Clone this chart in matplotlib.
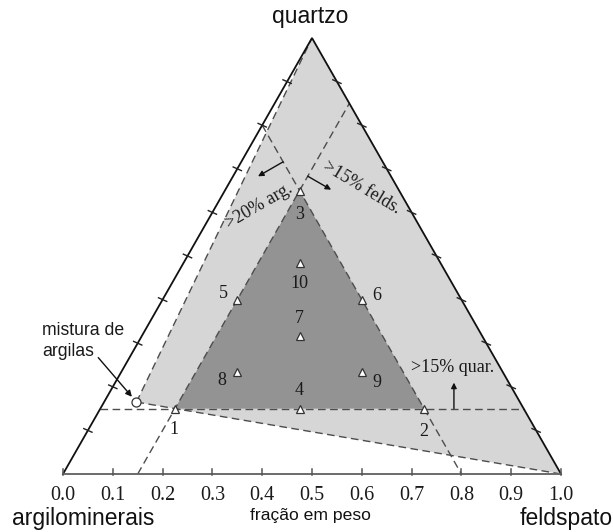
import numpy as np
import matplotlib
matplotlib.use('Agg')
import matplotlib.pyplot as plt
from matplotlib.patches import Polygon

# Sample compositions (weight fractions): clay minerals, feldspar, quartz
sample_ids = ['1', '2', '3', '4', '5', '6', '7', '8', '9', '10']
clay     = [0.70, 0.20, 0.20, 0.45, 0.45, 0.20, 0.3667, 0.5333, 0.2833, 0.2833]
feldspar = [0.15, 0.65, 0.15, 0.40, 0.15, 0.40, 0.3167, 0.2333, 0.4833, 0.2333]
quartz   = [0.15, 0.15, 0.65, 0.15, 0.40, 0.40, 0.3167, 0.2333, 0.2333, 0.4833]

# Clay-mixture end member (clay, feldspar, quartz)
clay_mix = [0.77, 0.065, 0.165]

# Composition limits
min_clay = 0.20
min_feldspar = 0.15
min_quartz = 0.15

axis_ticks = [0.0, 0.1, 0.2, 0.3, 0.4, 0.5, 0.6, 0.7, 0.8, 0.9, 1.0]
tick_labels = ['0.0', '0.1', '0.2', '0.3', '0.4', '0.5', '0.6', '0.7', '0.8', '0.9', '1.0']
side_ticks = [0.1, 0.2, 0.3, 0.4, 0.5, 0.6, 0.7, 0.8, 0.9]

# label offsets (points) for each sample number
label_offsets = [(-0.7, -15), (0, -16.5), (0, -17), (0, 13), (-10, 4.3),
                 (10.8, 2.9), (0, 12.2), (-10.8, -5.8), (10.8, -7.2), (0, -14.4)]

SANS = 'Liberation Sans'
SERIF = 'Liberation Serif'
R3 = np.sqrt(3) / 2


def tern(a, f, q):
    """Ternary (clay, feldspar, quartz) -> cartesian; feldspar along the base."""
    a, f, q = np.asarray(a, float), np.asarray(f, float), np.asarray(q, float)
    return f + q / 2, q * R3


# figure geometry: base spans 498 px, height scale chosen for a 436 px tall triangle
W, H = 613, 532
X0, Y0 = 63, 474
SX = 498.0
SY = 436.0 / R3

fig = plt.figure(figsize=(W / 100, H / 100), dpi=100)
ax = fig.add_axes([0, 0, 1, 1])
ax.set_xlim(-X0 / SX, (W - X0) / SX)
ax.set_ylim(-(H - Y0) / SY, Y0 / SY)
ax.axis('off')


def px(xp, yp):
    return (xp - X0) / SX, (Y0 - yp) / SY


LIGHT = '#d6d6d6'
DARK = '#939393'
DASH = '#4d4d4d'
dash_style = (0, (5.5, 3.2))

# vertices
A_v = tern(1, 0, 0)
F_v = tern(0, 1, 0)
Q_v = tern(0, 0, 1)
M_v = tern(*clay_mix)

# region reachable from the clay mixture, quartz and feldspar
ax.add_patch(Polygon([M_v, Q_v, F_v], closed=True, facecolor=LIGHT,
                     edgecolor='none', zorder=1))

# accepted composition window
p1 = tern(1 - min_feldspar - min_quartz, min_feldspar, min_quartz)
p2 = tern(min_clay, 1 - min_clay - min_quartz, min_quartz)
p3 = tern(min_clay, min_feldspar, 1 - min_clay - min_feldspar)
ax.add_patch(Polygon([p1, p2, p3], closed=True, facecolor=DARK,
                     edgecolor='none', zorder=2))

# dashed lines
def dline(t1, t2):
    x1, y1 = tern(*t1)
    x2, y2 = tern(*t2)
    ax.plot([x1, x2], [y1, y2], color=DASH, lw=1.0, linestyle=dash_style, zorder=3)

dline(clay_mix, (0, 0, 1))
dline(clay_mix, (0, 1, 0))
dline((1 - min_quartz, 0, min_quartz), (0, 1 - min_quartz, min_quartz))
dline((1 - min_feldspar, min_feldspar, 0), (0, min_feldspar, 1 - min_feldspar))
dline((min_clay, 0, 1 - min_clay), (min_clay, 1 - min_clay, 0))

# triangle edges
ax.plot([A_v[0], Q_v[0], F_v[0]], [A_v[1], Q_v[1], F_v[1]], color='#111111',
        lw=1.3, zorder=4, solid_joinstyle='miter')
ax.plot([A_v[0], F_v[0]], [A_v[1], F_v[1]], color='#6a6a6a', lw=1.4, zorder=4)

# base ticks and labels
for t, lab in zip(axis_ticks, tick_labels):
    ax.plot([t, t], [-1.0 / SY, 5.5 / SY], color='#555555', lw=1.1, zorder=4)
    ax.text(t, px(0, 500)[1], lab, ha='center', va='baseline',
            fontsize=14.5, family=SERIF, color='#1a1a1a')

# side ticks
tdx, tdy = np.cos(np.radians(-24)) * 4.5 / SX, np.sin(np.radians(-24)) * 4.5 / SY
for q in side_ticks:
    for (x, y) in (tern(1 - q, 0, q), tern(0, 1 - q, q)):
        ax.plot([x - tdx, x + tdx], [y - tdy, y + tdy], color='#222222',
                lw=1.0, zorder=4)

# samples
sx, sy = tern(clay, feldspar, quartz)
ax.plot(sx, sy, linestyle='none', marker='^', markersize=6.2,
        markerfacecolor='white', markeredgecolor='#333333',
        markeredgewidth=0.9, zorder=6)
for x, y, lab, off in zip(sx, sy, sample_ids, label_offsets):
    ax.annotate(lab, (x, y), xytext=off, textcoords='offset points',
                ha='center', va='center', fontsize=13, family=SERIF,
                color='#1a1a1a', zorder=7)

# clay mixture
ax.plot([M_v[0]], [M_v[1]], linestyle='none', marker='o', markersize=6.5,
        markerfacecolor='white', markeredgecolor='#333333',
        markeredgewidth=0.9, zorder=6)
ax.annotate('', xy=M_v, xytext=(-27.5, 32), textcoords='offset points',
            arrowprops=dict(arrowstyle='-|>', color='#111111', lw=1.0,
                            mutation_scale=9, shrinkA=0, shrinkB=5), zorder=7)
ax.text(*px(42, 335), 'mistura de', ha='left', va='baseline', fontsize=12.7,
        family=SANS, color='#1a1a1a')
ax.text(*px(42, 356), 'argilas', ha='left', va='baseline', fontsize=12.7,
        family=SANS, color='#1a1a1a')

# limit arrows
def limit_arrow(start, direction, length_px):
    x0, y0 = tern(*start)
    dx, dy = direction
    x1 = x0 + dx * length_px / SX
    y1 = y0 + dy * length_px / SY
    ax.annotate('', xy=(x1, y1), xytext=(x0, y0),
                arrowprops=dict(arrowstyle='-|>', color='#111111', lw=1.0,
                                mutation_scale=8, shrinkA=0, shrinkB=0), zorder=7)

q_a = 0.716
limit_arrow((min_clay, 1 - min_clay - q_a, q_a), (-0.866, -0.5), 29)
q_f = 0.683
limit_arrow((1 - min_feldspar - q_f, min_feldspar, q_f), (0.866, -0.5), 27)
f_q = 0.71
limit_arrow((1 - f_q - min_quartz, f_q, min_quartz), (0, 1), 26)

ax.text(*px(259, 206), '>20% arg.', rotation=30, rotation_mode='anchor',
        ha='center', va='center', fontsize=13, family=SERIF, color='#1a1a1a', zorder=7)
ax.text(*px(362, 188), '>15% felds.', rotation=-31, rotation_mode='anchor',
        ha='center', va='center', fontsize=13, family=SERIF, color='#1a1a1a', zorder=7)
ax.text(*px(453, 368), '>15% quar.', ha='center', va='center', fontsize=13,
        family=SERIF, color='#1a1a1a', zorder=7)

# corner and axis titles
ax.text(*px(310, 23), 'quartzo', ha='center', va='baseline', fontsize=16.5,
        family=SANS, color='#111111')
ax.text(*px(83, 525.5), 'argilominerais', ha='center', va='baseline', fontsize=16.5,
        family=SANS, color='#111111')
ax.text(*px(566, 525.5), 'feldspato', ha='center', va='baseline', fontsize=16.5,
        family=SANS, color='#111111')
ax.text(*px(310, 520), 'fração em peso', ha='center', va='baseline', fontsize=12.6,
        family=SANS, color='#111111')

fig.savefig('out.png', dpi=100)
